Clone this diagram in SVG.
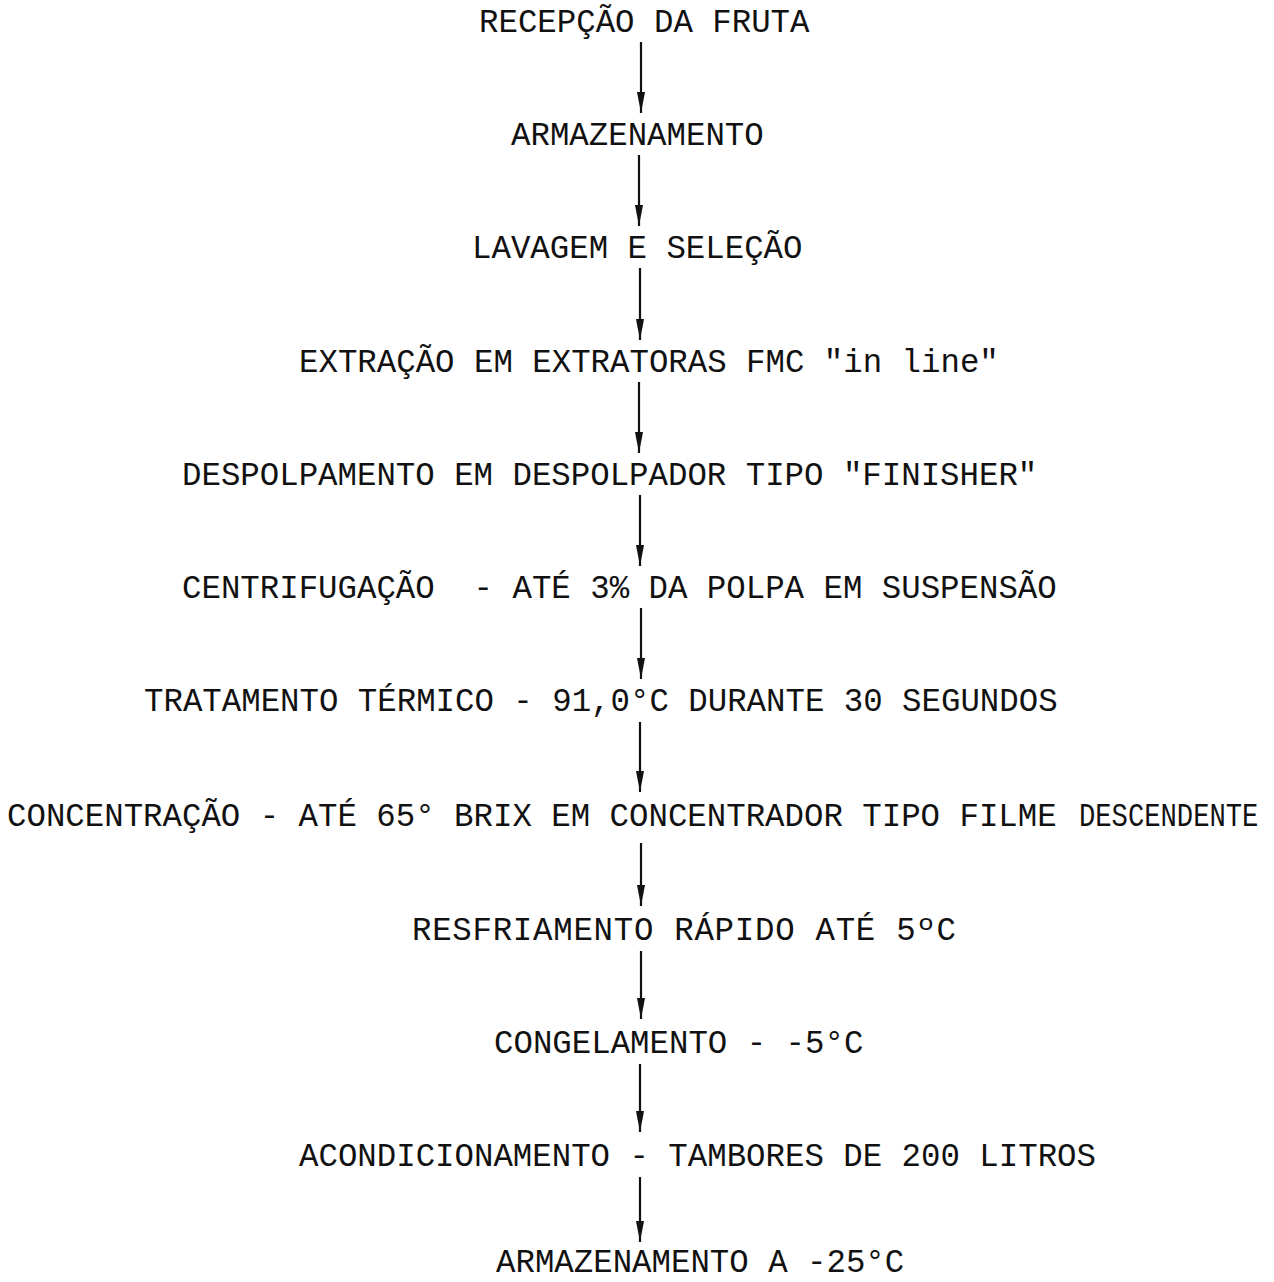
<svg xmlns="http://www.w3.org/2000/svg" width="1274" height="1282" viewBox="0 0 1274 1282">
<defs>
<style>
.t{font-family:"Liberation Mono","DejaVu Sans Mono",monospace;font-size:32.4px;fill:#111;}
.c{stroke:#111;stroke-width:2.2;fill:none;}
</style>
<marker id="ah" markerUnits="userSpaceOnUse" viewBox="0 -5 22 10" refX="21" refY="0" markerWidth="22" markerHeight="10" orient="auto">
<path d="M0,-4 L21,0 L0,4 Z" fill="#111"/>
</marker>
</defs>
<rect width="1274" height="1282" fill="#fff"/>
<g id="connectors">
<path class="c" d="M641,42 V113" marker-end="url(#ah)"/>
<path class="c" d="M639,155 V226" marker-end="url(#ah)"/>
<path class="c" d="M640,268 V340" marker-end="url(#ah)"/>
<path class="c" d="M639,382 V453" marker-end="url(#ah)"/>
<path class="c" d="M640,495 V566" marker-end="url(#ah)"/>
<path class="c" d="M641,608 V679" marker-end="url(#ah)"/>
<path class="c" d="M640,722 V792" marker-end="url(#ah)"/>
<path class="c" d="M641,843 V906" marker-end="url(#ah)"/>
<path class="c" d="M641,951 V1019" marker-end="url(#ah)"/>
<path class="c" d="M640,1064 V1132" marker-end="url(#ah)"/>
<path class="c" d="M640,1177 V1242" marker-end="url(#ah)"/>
</g>
<g id="n1"><text class="t" x="479" y="32">RECEPÇÃO DA FRUTA</text></g>
<g id="n2"><text class="t" x="511" y="145">ARMAZENAMENTO</text></g>
<g id="n3"><text class="t" x="472" y="258">LAVAGEM E SELEÇÃO</text></g>
<g id="n4"><text class="t" x="299" y="372">EXTRAÇÃO EM EXTRATORAS FMC "in line"</text></g>
<g id="n5"><text class="t" x="182" y="485">DESPOLPAMENTO EM DESPOLPADOR TIPO "FINISHER"</text></g>
<g id="n6"><text class="t" x="182" y="598" xml:space="preserve">CENTRIFUGAÇÃO  - ATÉ 3% DA POLPA EM SUSPENSÃO</text></g>
<g id="n7"><text class="t" x="144" y="711">TRATAMENTO TÉRMICO - 91,0°C DURANTE 30 SEGUNDOS</text></g>
<g id="n8"><text class="t" x="7" y="826">CONCENTRAÇÃO - ATÉ 65° BRIX EM CONCENTRADOR TIPO FILME</text><text class="t" style="font-size:27.2px" transform="translate(1079,826) scale(1,1.19)" x="0" y="0">DESCENDENTE</text></g>
<g id="n9"><text class="t" x="412" y="940" textLength="544" lengthAdjust="spacing">RESFRIAMENTO RÁPIDO ATÉ 5ºC</text></g>
<g id="n10"><text class="t" x="494" y="1053">CONGELAMENTO - -5°C</text></g>
<g id="n11"><text class="t" x="299" y="1166">ACONDICIONAMENTO - TAMBORES DE 200 LITROS</text></g>
<g id="n12"><text class="t" x="496" y="1272">ARMAZENAMENTO A -25°C</text></g>
</svg>
